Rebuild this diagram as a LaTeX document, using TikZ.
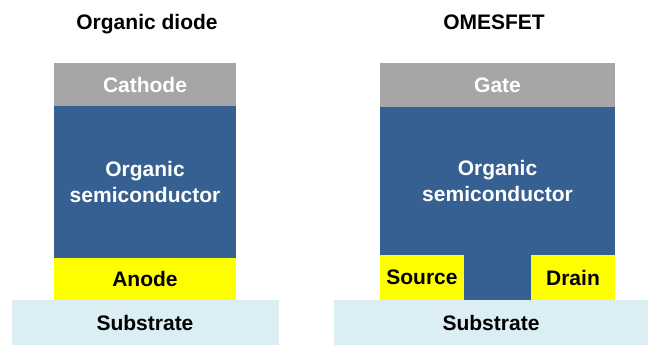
\documentclass[tikz,border=0pt]{standalone}
\usepackage{xcolor}
\usepackage{fontspec}
\setmainfont{Liberation Sans}
\usepackage{tikz}
\usetikzlibrary{positioning}

\definecolor{electrodegray}{HTML}{A6A6A6}
\definecolor{organicblue}{HTML}{366092}
\definecolor{contactyellow}{HTML}{FFFF00}
\definecolor{substratecyan}{HTML}{DAEEF3}

\begin{document}
\begin{tikzpicture}[
                x=1pt, y=-1pt,
                node distance=0pt,
                layer/.style={rectangle, inner sep=0pt, outer sep=0pt, align=center,
                    text depth=0pt, font=\fontsize{21}{26}\selectfont\bfseries},
                electrode/.style={layer, fill=electrodegray, text=white},
                organic/.style={layer, fill=organicblue, text=white},
                contact/.style={layer, fill=contactyellow},
                substrate/.style={layer, fill=substratecyan},
                title/.style={anchor=base, font=\fontsize{21}{26}\selectfont\bfseries}
            ]
                \useasboundingbox (0,0) rectangle (648,345);

                % Organic diode
                \node[title] (diodeTitle) at (147,30) {Organic diode};
                \node[electrode, minimum width=182, minimum height=43, anchor=north west] (cathode) at (54,63) {Cathode};
                \node[organic, minimum width=182, minimum height=152, below=of cathode] (semiL) {Organic\\semiconductor};
                \node[contact, minimum width=182, minimum height=42, below=of semiL] (anode) {Anode};
                \node[substrate, minimum width=267, minimum height=45, below=of anode] (substrateL) {Substrate};

                % OMESFET
                \node[title] (fetTitle) at (494,30) {OMESFET};
                \node[electrode, minimum width=235, minimum height=44, anchor=north west] (gate) at (380,63) {Gate};
                \node[organic, minimum width=235, minimum height=148, below=of gate] (semiR) {Organic\\semiconductor};
                \node[contact, minimum width=84, minimum height=45, anchor=north west] (source) at (semiR.south west) {Source};
                \node[contact, minimum width=84, minimum height=45, anchor=north east] (drain) at (semiR.south east) {Drain};
                \path[fill=organicblue] (source.north east) rectangle (drain.south west);
                \node[substrate, minimum width=314, minimum height=45, anchor=north west] (substrateR) at (334,300) {Substrate};
            \end{tikzpicture}
\end{document}
